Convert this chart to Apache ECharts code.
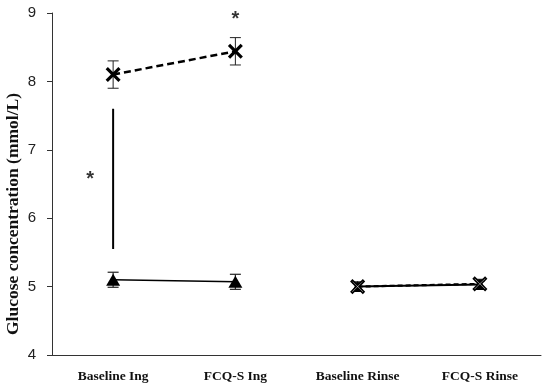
<!DOCTYPE html>
<html><head><meta charset="utf-8">
<script src="https://cdn.jsdelivr.net/npm/echarts@6/dist/echarts.min.js"></script>
<style>html,body{margin:0;padding:0;background:#fff}#c{width:550px;height:389px}</style>
</head><body><div id="c"></div>
<script>
const categories = ['Baseline Ing','FCQ-S Ing','Baseline Rinse','FCQ-S Rinse'];
const yTicks = [4,5,6,7,8,9];
const ingCross = [8.1, 8.44, null, null];
const ingCrossErr = [0.2, 0.2, null, null];
const ingTri = [5.1, 5.07, null, null];
const ingTriErr = [0.11, 0.11, null, null];
const rinseTri = [null, null, 5.0, 5.03];
const rinseTriErr = [null, null, 0.06, 0.06];
const rinseCross = [null, null, 5.0, 5.04];
const rinseCrossErr = [null, null, 0.06, 0.06];
const sigLine = [7.6, 5.55];
const stars = [['Baseline Ing', 6.56, -23], ['FCQ-S Ing', 8.9, 0]];

const X_PATH = 'path://M2,0 L10,8 L18,0 L20,2 L12,10 L20,18 L18,20 L10,12 L2,20 L0,18 L8,10 L0,2 Z';
const X_BOLD = 'path://M3,0 L10,7 L17,0 L20,3 L13,10 L20,17 L17,20 L10,13 L3,20 L0,17 L7,10 L0,3 Z';

function errSeries(vals, errs, w, lw) {
  const data = [];
  vals.forEach((v, i) => { if (v != null) data.push([i, v - errs[i], v + errs[i]]); });
  return {
    type: 'custom', z: 1,
    renderItem: function (params, api) {
      const x = api.value(0);
      const lo = api.coord([x, api.value(1)]);
      const hi = api.coord([x, api.value(2)]);
      const st = { stroke: '#222', lineWidth: lw };
      return { type: 'group', children: [
        { type: 'line', shape: { x1: lo[0], y1: lo[1], x2: hi[0], y2: hi[1] }, style: st },
        { type: 'line', shape: { x1: lo[0]-w, y1: lo[1], x2: lo[0]+w, y2: lo[1] }, style: st },
        { type: 'line', shape: { x1: hi[0]-w, y1: hi[1], x2: hi[0]+w, y2: hi[1] }, style: st }
      ]};
    },
    data: data
  };
}

const chart = echarts.init(document.getElementById('c'), null, { renderer: 'canvas' });
chart.setOption({
  animation: false,
  grid: { left: 52, right: 9, top: 13, bottom: 34, containLabel: false, outerBoundsMode: 'none' },
  xAxis: {
    type: 'category', data: categories, boundaryGap: true,
    axisLine: { lineStyle: { color: '#333', width: 1 } },
    axisTick: { alignWithLabel: true, length: 5, lineStyle: { color: '#333' } },
    axisLabel: { margin: 15, fontFamily: '"Liberation Serif", "Times New Roman", serif', fontWeight: 'bold', fontSize: 13.5, color: '#111' }
  },
  yAxis: {
    type: 'value', min: yTicks[0], max: yTicks[yTicks.length-1], interval: 1,
    name: 'Glucose concentration (mmol/L)', nameLocation: 'middle', nameGap: 30, nameMoveOverlap: false,
    nameTextStyle: { fontFamily: '"Liberation Serif", "Times New Roman", serif', fontWeight: 'bold', fontSize: 17.5, color: '#111', padding: [0, 60, 0, 0] },
    splitLine: { show: false },
    axisLine: { show: true, lineStyle: { color: '#333', width: 1 } },
    axisTick: { show: true, length: 5, lineStyle: { color: '#333' } },
    axisLabel: { margin: 16, fontFamily: 'Arial, "Liberation Sans", sans-serif', fontSize: 15, color: '#222' }
  },
  series: [
    errSeries(ingCross, ingCrossErr, 5.5, 1),
    errSeries(ingTri, ingTriErr, 5.5, 1.2),
    errSeries(rinseTri, rinseTriErr, 5, 2),
    errSeries(rinseCross, rinseCrossErr, 5, 2),
    { type: 'line', data: ingTri, symbol: 'triangle', symbolSize: [14, 12], z: 3,
      itemStyle: { color: '#000' }, lineStyle: { color: '#000', width: 1.5 } },
    { type: 'line', data: ingCross, symbol: X_BOLD, symbolSize: 15, z: 3,
      itemStyle: { color: '#000' }, lineStyle: { color: '#000', width: 2.5, type: [7, 4] } },
    { type: 'line', data: rinseTri, symbol: 'triangle', symbolSize: [12, 11], z: 3,
      itemStyle: { color: '#000' }, lineStyle: { color: '#000', width: 2 } },
    { type: 'line', data: rinseCross, symbol: X_PATH, symbolSize: 13, z: 4,
      itemStyle: { color: '#fff', borderColor: '#000', borderWidth: 1.5 }, lineStyle: { color: '#000', width: 2.2, type: [5, 3] } },
    { type: 'line', data: [[categories[0], sigLine[0]], [categories[0], sigLine[1]]], symbol: 'none', z: 2,
      lineStyle: { color: '#000', width: 2 } },
    { type: 'scatter', symbolSize: 0, z: 5,
      data: stars.map(s => ({ value: [s[0], s[1]], label: { offset: [s[2], 0] } })),
      label: { show: true, position: 'inside', formatter: '*', fontFamily: 'Arial, "Liberation Sans", sans-serif', fontWeight: 'bold', fontSize: 20, color: '#000', padding: [9, 0, 0, 0] } }
  ]
});
</script></body></html>
